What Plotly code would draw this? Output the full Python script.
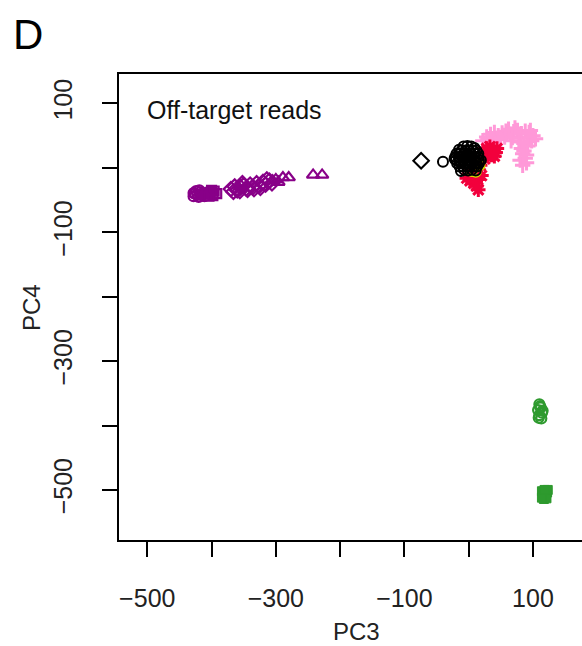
import plotly.graph_objects as go

# ---- data (PC3, PC4) ----
black_circle_x = [-8, -2, 4, 9,
                  -15, -11, -5, 1, 7, 12,
                  -19, -14, -8, -2, 4, 10, 15,
                  -21, -15, -9, -3, 3, 9, 15,
                  -20, -14, -8, -2, 4, 10, 16, 19,
                  -18, -12, -6, 0, 6, 12, 16,
                  -14, -9, -3, 3, 9, 13,
                  -7, -1, 5,
                  -40, -12, 11, -22]
black_circle_y = [33, 34, 33, 31,
                  28, 27, 27, 27, 27, 27,
                  22, 22, 22, 22, 22, 22, 22,
                  17, 17, 17, 17, 17, 17, 17,
                  12, 12, 12, 12, 12, 12, 12, 12,
                  7, 7, 7, 7, 7, 7, 7,
                  2, 2, 2, 2, 2, 2,
                  -3, -4, -3,
                  9.5, -5, -4, 14]
black_diamond_x = [-74]
black_diamond_y = [11]

yellow_x = [17, 5, 11]
yellow_y = [4, -5, -6]

red_x = [28, 33, 38, 42, 30, 36, 44, 25, 0, 5, 10, 2, 8, 14, -3, 12, 15, 20, 18, 40, 22]
red_y = [30, 33, 28, 24, 22, 20, 30, 14, -10, -14, -8, -20, -24, -18, -16, -28, -34, -12, 4, 18, 24]

pink_x = [22, 28, 34, 40, 46, 52, 58, 64, 70, 76, 82, 88, 94, 100, 104, 30, 44, 56, 68, 80, 92, 98, 86, 82, 84, 88, 80, 90, 86, 92, 36, 62, 72, 50, 66, 78, 96, 84, 90]
pink_y = [42, 48, 52, 55, 50, 54, 57, 52, 56, 58, 53, 57, 55, 50, 45, 44, 46, 48, 47, 46, 48, 42, 38, 30, 22, 15, 12, 8, 26, 34, 40, 60, 62, 44, 42, 40, 58, 4, 20]

purple_circle_x = [-428, -426, -422, -418, -414, -420, -412, -424, -416, -428, -419, -411]
purple_circle_y = [-44, -40, -42, -38, -43, -45, -39, -36, -41, -39, -35, -44]
purple_square_x = [-408, -402, -396, -392, -398, -404, -400]
purple_square_y = [-40, -38, -36, -40, -43, -44, -35]
purple_diamond_x = [-370, -364, -360, -355, -350, -346, -340, -336, -330, -326, -320, -316, -310, -306, -366, -356, -344, -334, -324, -352, -314]
purple_diamond_y = [-33, -29, -35, -30, -27, -32, -26, -30, -24, -28, -22, -26, -20, -24, -37, -36, -34, -33, -31, -24, -18]
purple_triangle_x = [-305, -300, -296, -289, -280, -242, -228]
purple_triangle_y = [-20, -18, -22, -15, -15, -11, -11]

green_circle_x = [110, 112, 108, 114, 110, 113, 109, 115, 111]
green_circle_y = [-367, -372, -376, -380, -384, -389, -388, -377, -370]
green_square_x = [114, 118, 122, 116, 120, 117, 121, 114, 123, 118]
green_square_y = [-502, -505, -504, -509, -511, -514, -513, -512, -500, -500]

tick_vals = [-500, -400, -300, -200, -100, 0, 100]
tick_text = ["\u2212500", "", "\u2212300", "", "\u2212100", "", "100"]

PURPLE = "#880088"
GREEN = "#2E9A2E"
RED = "#F2003C"
PINK = "#FF99D8"
YELLOW = "#D4E000"

fig = go.Figure()

def add(x, y, symbol, color, size=9, width=1.5):
    fig.add_trace(go.Scatter(
        x=x, y=y, mode="markers",
        marker=dict(symbol=symbol, size=size, color=color,
                    line=dict(color=color, width=width)),
        showlegend=False, hoverinfo="skip"))

add(pink_x, pink_y, "cross-thin-open", PINK, size=11, width=3)
add(red_x, red_y, "asterisk-open", RED, size=12, width=3)
add(yellow_x, yellow_y, "circle-open", YELLOW, size=10, width=2)
add(black_circle_x, black_circle_y, "circle-open", "black", size=10, width=2)
add(black_diamond_x, black_diamond_y, "diamond-open", "black", size=12, width=2)
add(purple_circle_x, purple_circle_y, "circle-open", PURPLE, size=10, width=2.2)
add(purple_square_x, purple_square_y, "square-open", PURPLE, size=9, width=2.2)
add(purple_diamond_x, purple_diamond_y, "diamond-open", PURPLE, size=11, width=2.2)
add(purple_triangle_x, purple_triangle_y, "triangle-up-open", PURPLE, size=11, width=2.2)
add(green_circle_x, green_circle_y, "circle-open", GREEN, size=10, width=2.2)
add(green_square_x, green_square_y, "square", GREEN, size=9, width=1)

FONT = "Liberation Sans"
axis_common = dict(
    showgrid=False, zeroline=False, showline=True, linecolor="black", linewidth=1.5,
    ticks="outside", ticklen=15, tickwidth=1.5, tickcolor="black",
    tickvals=tick_vals, ticktext=tick_text,
    tickfont=dict(family=FONT, size=25, color="#222222"),
)

fig.update_layout(
    width=582, height=646,
    margin=dict(l=119, r=0, t=74, b=106),
    paper_bgcolor="white", plot_bgcolor="white",
    xaxis=dict(range=[-544, 176.3], mirror=True, ticklabelstandoff=20, **axis_common),
    yaxis=dict(range=[-577.7, 145.7], mirror=False, tickangle=-90, ticklabelstandoff=20, **axis_common),
    annotations=[
        dict(text="Off-target reads", xref="paper", yref="paper", x=(145 - 119) / 463, y=(540 - 110.5) / 466,
             xanchor="left", yanchor="middle", showarrow=False,
             font=dict(family=FONT, size=25, color="#111111")),
        dict(text="PC3", xref="paper", yref="paper", x=(356 - 119) / 463, y=(540 - 631) / 466,
             xanchor="center", yanchor="middle", showarrow=False,
             font=dict(family=FONT, size=24, color="#222222")),
        dict(text="PC4", xref="paper", yref="paper", x=(31 - 119) / 463, y=(540 - 308) / 466,
             xanchor="center", yanchor="middle", showarrow=False, textangle=-90,
             font=dict(family=FONT, size=24, color="#222222")),
        dict(text="D", xref="paper", yref="paper", x=(11 - 119) / 463, y=(540 - 34) / 466,
             xanchor="left", yanchor="middle", showarrow=False,
             font=dict(family=FONT, size=42, color="black")),
    ],
)

fig.write_html("out.html")
